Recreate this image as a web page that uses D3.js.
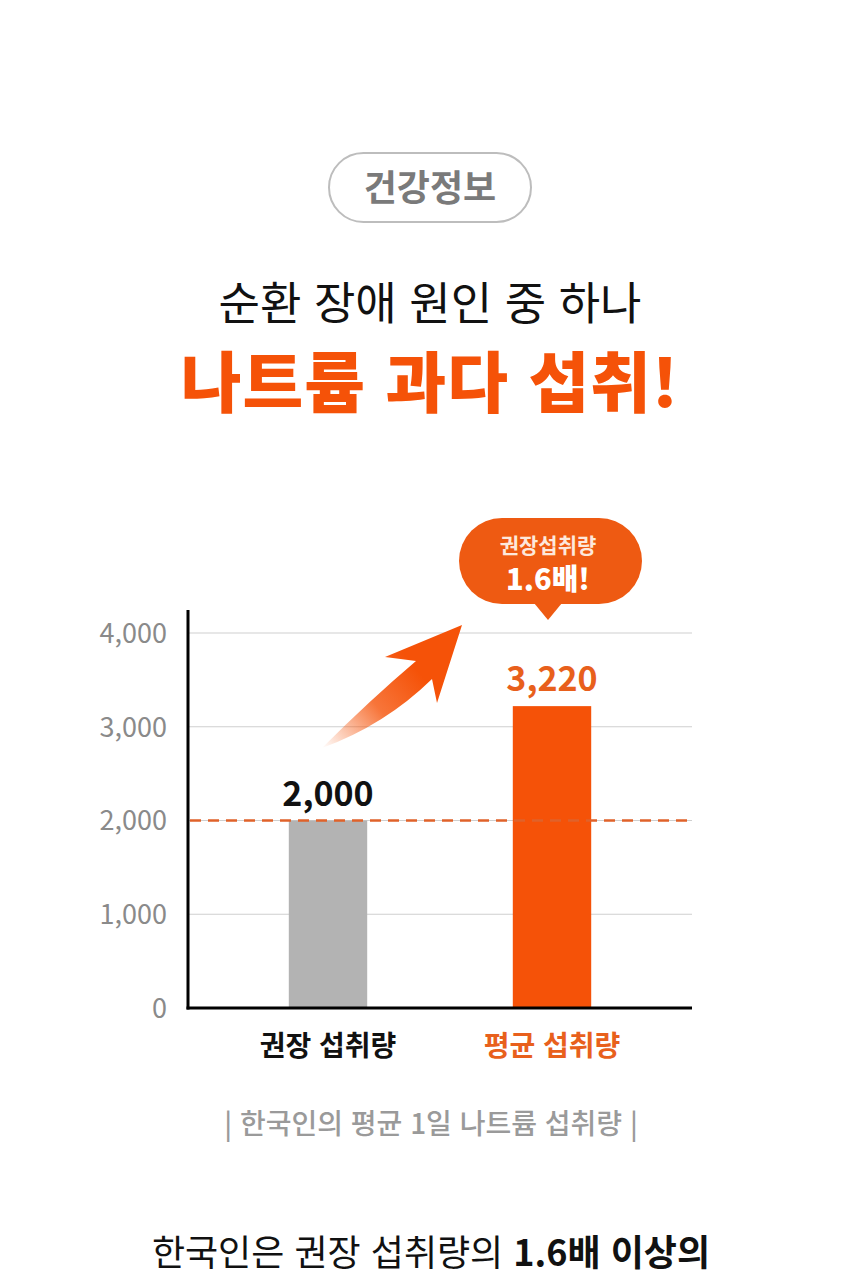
<!doctype html>
<html lang="ko">
<head>
<meta charset="utf-8">
<title>나트륨 과다 섭취</title>
<script src="https://cdn.jsdelivr.net/npm/d3@7"></script>
<style>
html, body { margin:0; padding:0; background:#fff; }
svg { display:block; font-family:"Noto Sans CJK KR", "Noto Sans", sans-serif; }
</style>
</head>
<body>
<svg id="chart" width="860" height="1280"></svg>
<script>
// data
const categories = ["권장 섭취량", "평균 섭취량"];
const values = [2000, 3220];
const valueLabels = ["2,000", "3,220"];
const yTicks = [0, 1000, 2000, 3000, 4000];
const refValue = 2000;

const ORANGE = "#f55208";
const ORANGE_TXT = "#e8601c";

const svg = d3.select("#chart");

// header pill
svg.append("rect").attr("x", 329).attr("y", 153).attr("width", 202).attr("height", 69)
  .attr("rx", 34.5).attr("fill", "#fff").attr("stroke", "#bdbdbd").attr("stroke-width", 2);
svg.append("text").attr("x", 430).attr("y", 201).attr("text-anchor", "middle")
  .attr("font-size", 36).attr("font-weight", 700).attr("fill", "#7a7a7a").text("건강정보");

// titles
svg.append("text").attr("x", 430).attr("y", 320).attr("text-anchor", "middle")
  .attr("font-size", 45).attr("font-weight", 400).attr("fill", "#111").text("순환 장애 원인 중 하나");
svg.append("text").attr("x", 430).attr("y", 407).attr("text-anchor", "middle")
  .attr("font-size", 66).attr("font-weight", 900).attr("fill", ORANGE).attr("letter-spacing", 1)
  .text("나트륨 과다 섭취!");

// chart area
const x0 = 188, x1 = 692, yTop = 610, yBot = 1008;
const y = d3.scaleLinear().domain([0, 4000]).range([yBot, 633]);
const x = d3.scaleBand().domain(categories).range([x0, x1]).paddingInner(0.65).paddingOuter(0.45);

const g = svg.append("g");

// grid
g.selectAll(".grid").data(yTicks.filter(d => d > 0)).enter().append("line")
  .attr("x1", x0).attr("x2", x1).attr("y1", d => y(d)).attr("y2", d => y(d))
  .attr("stroke", "#cfcfcf").attr("stroke-width", 1);

// y tick labels
const yAxis = d3.axisLeft(y).tickValues(yTicks).tickSize(0).tickPadding(21).tickFormat(d3.format(","));
const ya = g.append("g").attr("transform", `translate(${x0},0)`).call(yAxis);
ya.select(".domain").remove();
ya.selectAll("text").attr("font-size", 27).attr("fill", "#8a8a8a")
  .attr("font-family", "'Noto Sans CJK KR', sans-serif").attr("dy", "0.35em");

// bars
g.selectAll(".bar").data(values).enter().append("rect")
  .attr("x", (d, i) => x(categories[i])).attr("width", x.bandwidth())
  .attr("y", d => y(d)).attr("height", d => yBot - y(d))
  .attr("fill", (d, i) => i === 0 ? "#b3b3b3" : ORANGE);

// reference dashed line
g.append("line").attr("x1", x0 + 2).attr("x2", x1).attr("y1", y(refValue)).attr("y2", y(refValue))
  .attr("stroke", "#e0622a").attr("stroke-width", 2.5).attr("stroke-dasharray", "11,7");

// axes lines
g.append("line").attr("x1", x0).attr("x2", x0).attr("y1", yTop).attr("y2", yBot + 1.5)
  .attr("stroke", "#000").attr("stroke-width", 3);
g.append("line").attr("x1", x0 - 1.5).attr("x2", x1).attr("y1", yBot).attr("y2", yBot)
  .attr("stroke", "#000").attr("stroke-width", 3);

// value labels
g.selectAll(".val").data(values).enter().append("text")
  .attr("x", (d, i) => x(categories[i]) + x.bandwidth() / 2)
  .attr("y", d => y(d) - 15)
  .attr("text-anchor", "middle").attr("font-size", 34).attr("font-weight", 700)
  .attr("fill", (d, i) => i === 0 ? "#111" : ORANGE_TXT)
  .text((d, i) => valueLabels[i]);

// category labels
g.selectAll(".cat").data(categories).enter().append("text")
  .attr("x", d => x(d) + x.bandwidth() / 2).attr("y", 1056)
  .attr("text-anchor", "middle").attr("font-size", 28).attr("font-weight", 700)
  .attr("fill", (d, i) => i === 0 ? "#111" : ORANGE_TXT)
  .text(d => d);

// arrow with gradient
const defs = svg.append("defs");
const grad = defs.append("linearGradient").attr("id", "arrowGrad")
  .attr("gradientUnits", "userSpaceOnUse").attr("x1", 322).attr("y1", 748).attr("x2", 440).attr("y2", 650);
grad.append("stop").attr("offset", 0).attr("stop-color", ORANGE).attr("stop-opacity", 0);
grad.append("stop").attr("offset", 0.45).attr("stop-color", ORANGE).attr("stop-opacity", 0.8);
grad.append("stop").attr("offset", 0.8).attr("stop-color", ORANGE).attr("stop-opacity", 1);
svg.append("path")
  .attr("d", "M322,748 Q370,700 416,661 L385,657 L462,625 L437,703 L432,679 Q385,725 322,748 Z")
  .attr("fill", "url(#arrowGrad)");

// speech bubble
const bub = svg.append("g");
bub.append("rect").attr("x", 459).attr("y", 518).attr("width", 183).attr("height", 86)
  .attr("rx", 43).attr("fill", "#ee5a12");
bub.append("path").attr("d", "M534,603 L548,620 L562,603 Z").attr("fill", "#ee5a12");
bub.append("text").attr("x", 548).attr("y", 553).attr("text-anchor", "middle")
  .attr("font-size", 21).attr("font-weight", 700).attr("fill", "#fde8dc").text("권장섭취량");
bub.append("text").attr("x", 548).attr("y", 590).attr("text-anchor", "middle")
  .attr("font-size", 29).attr("font-weight", 900).attr("fill", "#fff").text("1.6배!");

// caption
svg.append("text").attr("x", 431).attr("y", 1134).attr("text-anchor", "middle")
  .attr("font-size", 28).attr("font-weight", 500).attr("fill", "#9a9a9a")
  .text("| 한국인의 평균 1일 나트륨 섭취량 |");

// bottom text
const bt = svg.append("text").attr("x", 431).attr("y", 1266).attr("text-anchor", "middle")
  .attr("font-size", 36).attr("fill", "#111");
bt.append("tspan").attr("font-weight", 400).text("한국인은 권장 섭취량의 ");
bt.append("tspan").attr("font-weight", 700).text("1.6배 이상의");
</script>
</body>
</html>
